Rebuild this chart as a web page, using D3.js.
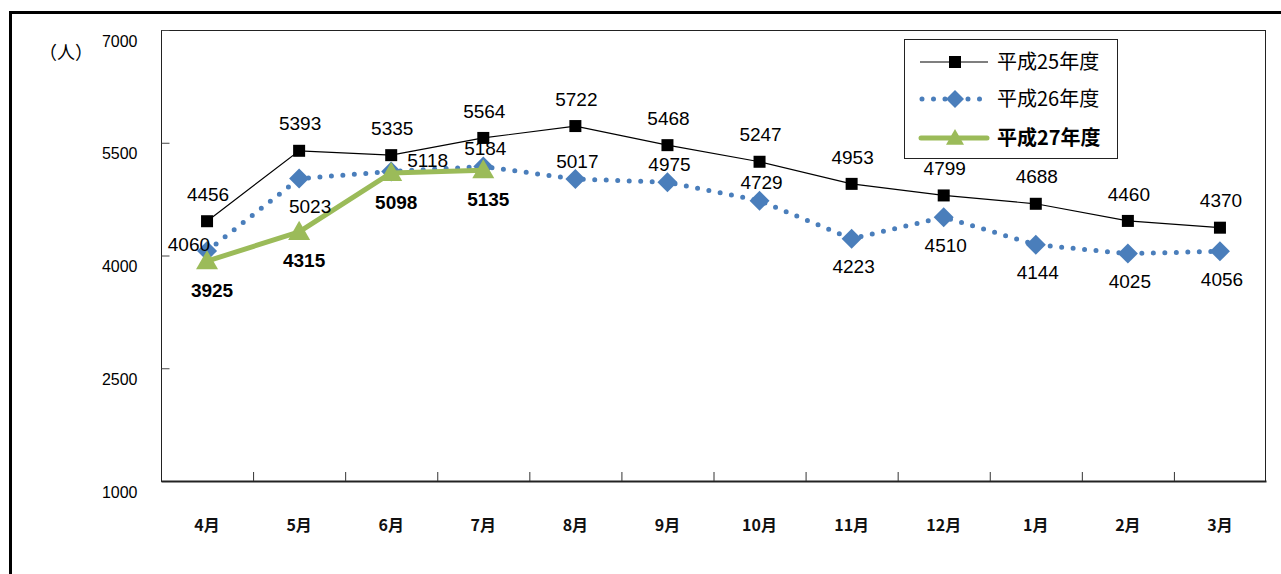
<!DOCTYPE html>
<html><head><meta charset="utf-8">
<script src="https://cdn.jsdelivr.net/npm/d3@7"></script>
<style>
html,body{margin:0;padding:0;background:#fff;overflow:hidden;}
svg{display:block;}
</style>
</head><body>
<svg id="chart" width="1281" height="574"></svg>
<script>
const months = ['4月','5月','6月','7月','8月','9月','10月','11月','12月','1月','2月','3月'];
const h25 = [4456,5393,5335,5564,5722,5468,5247,4953,4799,4688,4460,4370];
const h26 = [4060,5023,5118,5184,5017,4975,4729,4223,4510,4144,4025,4056];
const h27 = [3925,4315,5098,5135];
const yTicks = [1000,2500,4000,5500,7000];
const seriesNames = ['平成25年度','平成26年度','平成27年度'];
const unitLabel = '（人）';
const labelPos26 = ['left','below','right','above','above','above','above','below','below','below','below','below'];

const svg = d3.select('#chart');
const L = 161, R = 1266, T = 30, B = 481;
const x = d3.scaleBand().domain(months).range([L, R]);
const cx = m => x(m) + x.bandwidth() / 2;
const y = d3.scaleLinear().domain([1000, 7000]).range([B, T]);

const blue = '#4a7ebb', green = '#9bbb59';
const numFont = '"Liberation Sans", Arial, sans-serif';
const cjkFont = '"Noto Sans CJK JP", sans-serif';

// outer frame
svg.append('rect').attr('x', 10.5).attr('y', 12.5).attr('width', 1400).attr('height', 700)
  .attr('fill', 'none').attr('stroke', '#000').attr('stroke-width', 3);

// plot area border
svg.append('rect').attr('x', L + 0.5).attr('y', T + 0.5).attr('width', R - L - 1).attr('height', B - T)
  .attr('fill', 'none').attr('stroke', '#222').attr('stroke-width', 1);

// y axis
const yAxis = svg.append('g').attr('transform', `translate(${L + 0.5},0)`)
  .call(d3.axisLeft(y).tickValues(yTicks).tickSize(-8).tickPadding(24).tickFormat(d3.format('d')));
yAxis.select('.domain').remove();
yAxis.selectAll('line').attr('stroke', '#444');
yAxis.selectAll('text').attr('font-family', numFont).attr('font-size', 16).attr('fill', '#000')
  .attr('y', 11);

// x axis
const xAxis = svg.append('g').attr('transform', `translate(0,${B})`)
  .call(d3.axisBottom(x).tickSize(0).tickPadding(39));
xAxis.select('.domain').attr('stroke', '#222').attr('stroke-width', 1.8);
xAxis.selectAll('text').attr('font-family', cjkFont).attr('font-size', 16).attr('font-weight', 'bold').attr('fill', '#111');
// category boundary ticks (inside)
svg.append('g').selectAll('line').data(months.slice(1)).join('line')
  .attr('x1', d => x(d) + 0.5).attr('x2', d => x(d) + 0.5)
  .attr('y1', B).attr('y2', B - 9).attr('stroke', '#333').attr('stroke-width', 1);

// unit label
svg.append('text').attr('x', 66).attr('y', 53).attr('dy', '0.35em').attr('text-anchor', 'middle')
  .attr('font-family', cjkFont).attr('font-size', 18).attr('fill', '#000').text(unitLabel);

const line = d3.line().x(d => cx(d.m)).y(d => y(d.v));
const d25 = h25.map((v, i) => ({m: months[i], v}));
const d26 = h26.map((v, i) => ({m: months[i], v}));
const d27 = h27.map((v, i) => ({m: months[i], v}));

// H25
svg.append('path').datum(d25).attr('d', line).attr('fill', 'none').attr('stroke', '#000').attr('stroke-width', 1.2);
svg.append('g').selectAll('rect').data(d25).join('rect')
  .attr('x', d => cx(d.m) - 6).attr('y', d => y(d.v) - 6).attr('width', 12).attr('height', 12).attr('fill', '#000');

// H26
svg.append('path').datum(d26).attr('d', line).attr('fill', 'none').attr('stroke', blue)
  .attr('stroke-width', 5).attr('stroke-linecap', 'round').attr('stroke-dasharray', '0 11.5');
const diamond = (px, py, r) => `M${px},${py - r}L${px + r},${py}L${px},${py + r}L${px - r},${py}Z`;
svg.append('g').selectAll('path').data(d26).join('path')
  .attr('d', d => diamond(cx(d.m), y(d.v), 10)).attr('fill', blue);

// H27
svg.append('path').datum(d27).attr('d', line).attr('fill', 'none').attr('stroke', green)
  .attr('stroke-width', 5).attr('stroke-linejoin', 'round').attr('stroke-linecap', 'round');
const tri = (px, py, w) => `M${px},${py - w * 0.5}L${px + w / 2},${py + w * 0.37}L${px - w / 2},${py + w * 0.37}Z`;
svg.append('g').selectAll('path').data(d27).join('path')
  .attr('d', d => tri(cx(d.m), y(d.v), 22)).attr('fill', green);

// labels
const lab = svg.append('g').attr('font-family', numFont).attr('font-size', 19).attr('fill', '#000');
lab.selectAll('text.l25').data(d25).join('text').attr('class', 'l25')
  .attr('x', d => cx(d.m) + 1).attr('y', d => y(d.v) - 27).attr('dy', '0.35em')
  .attr('text-anchor', 'middle').text(d => d.v);
lab.selectAll('text.l26').data(d26).join('text').attr('class', 'l26')
  .each(function (d, i) {
    const p = labelPos26[i];
    const px = cx(d.m), py = y(d.v);
    const t = d3.select(this).attr('dy', '0.35em');
    if (p === 'left') t.attr('x', px + 3).attr('y', py - 7).attr('text-anchor', 'end');
    else if (p === 'right') t.attr('x', px + 16).attr('y', py - 11).attr('text-anchor', 'start');
    else if (p === 'above') t.attr('x', px + 2).attr('y', py - 18).attr('text-anchor', 'middle');
    else t.attr('x', px + (i === 1 ? 11 : 2)).attr('y', py + 28).attr('text-anchor', 'middle');
  }).text(d => d.v);
lab.selectAll('text.l27').data(d27).join('text').attr('class', 'l27')
  .attr('x', d => cx(d.m) + 5).attr('y', d => y(d.v) + 29).attr('dy', '0.35em')
  .attr('text-anchor', 'middle').attr('font-weight', 'bold').text(d => d.v);

// legend
const lg = svg.append('g');
lg.append('rect').attr('x', 904.5).attr('y', 39.5).attr('width', 213).attr('height', 119)
  .attr('fill', '#fff').attr('stroke', '#222').attr('stroke-width', 1);
const rows = [62, 99, 138];
const lx1 = 920, lx2 = 988, lmx = 955;
lg.append('line').attr('x1', lx1).attr('x2', lx2).attr('y1', rows[0]).attr('y2', rows[0]).attr('stroke', '#000').attr('stroke-width', 1.2);
lg.append('rect').attr('x', lmx - 6).attr('y', rows[0] - 6).attr('width', 12).attr('height', 12).attr('fill', '#000');
lg.append('line').attr('x1', lx1 + 2).attr('x2', lx2 - 2).attr('y1', rows[1]).attr('y2', rows[1]).attr('stroke', blue)
  .attr('stroke-width', 5).attr('stroke-linecap', 'round').attr('stroke-dasharray', '0 11.5');
lg.append('path').attr('d', diamond(lmx, rows[1], 9)).attr('fill', blue);
lg.append('line').attr('x1', lx1 + 1).attr('x2', lx2 - 1).attr('y1', rows[2]).attr('y2', rows[2]).attr('stroke', green)
  .attr('stroke-width', 5).attr('stroke-linecap', 'round');
lg.append('path').attr('d', tri(lmx, rows[2], 18)).attr('fill', green);
lg.selectAll('text').data(seriesNames).join('text')
  .attr('x', 997).attr('y', (d, i) => rows[i]).attr('dy', '0.35em')
  .attr('font-family', cjkFont).attr('font-size', 20).attr('fill', '#000')
  .attr('font-weight', (d, i) => i === 2 ? 'bold' : 'normal').text(d => d);
</script>
</body></html>
